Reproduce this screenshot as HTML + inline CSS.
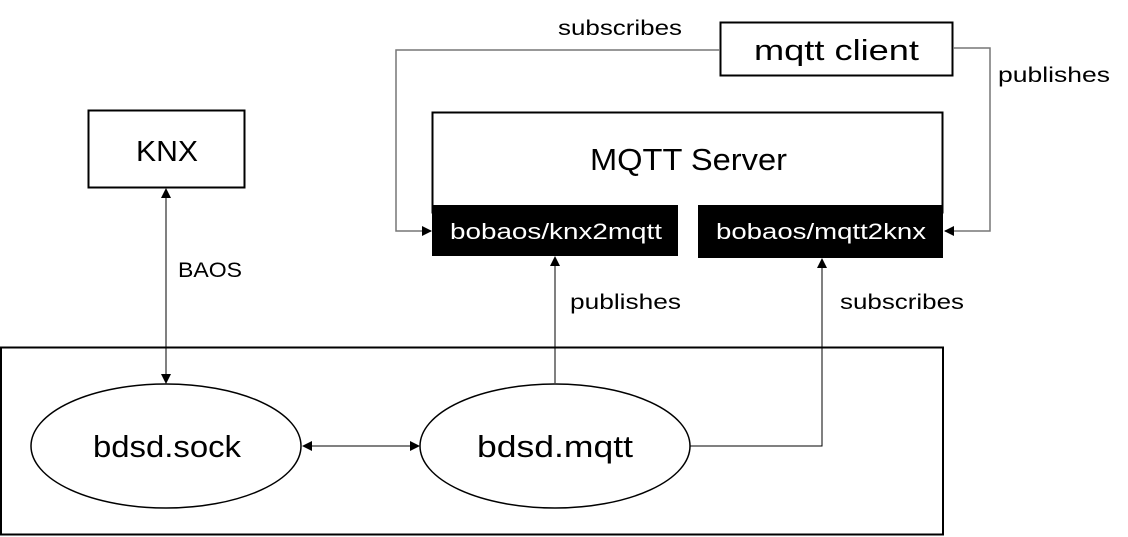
<!DOCTYPE html>
<html><head><meta charset="utf-8"><style>
html,body{margin:0;padding:0;background:#fff;}
svg{display:block;}
text{font-family:"Liberation Sans",sans-serif;fill:#000;}
</style></head><body>
<svg width="1128" height="537" viewBox="0 0 1128 537" xmlns="http://www.w3.org/2000/svg">
<defs>
<marker id="a" markerWidth="10" markerHeight="10" refX="9" refY="5" orient="auto" markerUnits="userSpaceOnUse">
<path d="M0,0 L10,5 L0,10 z" fill="#000"/></marker>
<marker id="s" markerWidth="10" markerHeight="10" refX="1" refY="5" orient="auto" markerUnits="userSpaceOnUse">
<path d="M10,0 L0,5 L10,10 z" fill="#000"/></marker>
</defs>
<!-- KNX -->
<rect x="88.5" y="110.5" width="156" height="77" fill="#fff" stroke="#000" stroke-width="2"/>
<text x="136" y="161" font-size="29" textLength="62" lengthAdjust="spacingAndGlyphs">KNX</text>
<!-- mqtt client -->
<rect x="720.5" y="22.5" width="232" height="53" fill="#fff" stroke="#000" stroke-width="2"/>
<text x="754" y="60" font-size="29" textLength="165" lengthAdjust="spacingAndGlyphs">mqtt client</text>
<!-- MQTT server -->
<rect x="432.5" y="112.5" width="510" height="100" fill="#fff" stroke="#000" stroke-width="2"/>
<text x="590" y="170" font-size="31" textLength="197" lengthAdjust="spacingAndGlyphs">MQTT Server</text>
<rect x="678" y="206" width="20" height="60" fill="#fff"/>
<rect x="432" y="205" width="246" height="51" fill="#000"/>
<text x="450" y="239" font-size="22" textLength="212" lengthAdjust="spacingAndGlyphs" style="fill:#fff">bobaos/knx2mqtt</text>
<rect x="698" y="205" width="245" height="53" fill="#000"/>
<text x="716" y="239" font-size="22" textLength="210" lengthAdjust="spacingAndGlyphs" style="fill:#fff">bobaos/mqtt2knx</text>
<!-- big box -->
<rect x="1" y="347.5" width="942" height="187" fill="none" stroke="#000" stroke-width="2"/>
<ellipse cx="166" cy="446" rx="135" ry="62" fill="#fff" stroke="#000" stroke-width="1.5"/>
<text x="93" y="457" font-size="31" textLength="148" lengthAdjust="spacingAndGlyphs">bdsd.sock</text>
<ellipse cx="555" cy="446" rx="135" ry="62" fill="#fff" stroke="#000" stroke-width="1.5"/>
<text x="477" y="457" font-size="31" textLength="156" lengthAdjust="spacingAndGlyphs">bdsd.mqtt</text>
<!-- connectors -->
<line x1="166" y1="189" x2="166" y2="383" stroke="#000" stroke-width="1" marker-start="url(#s)" marker-end="url(#a)"/>
<text x="178" y="277" font-size="21" textLength="64" lengthAdjust="spacingAndGlyphs">BAOS</text>
<line x1="303" y1="446" x2="419" y2="446" stroke="#000" stroke-width="1" marker-start="url(#s)" marker-end="url(#a)"/>
<line x1="555" y1="383" x2="555" y2="257" stroke="#000" stroke-width="1" marker-end="url(#a)"/>
<text x="570" y="309" font-size="21" textLength="111" lengthAdjust="spacingAndGlyphs">publishes</text>
<polyline points="690,446 822,446 822,259" fill="none" stroke="#000" stroke-width="1" marker-end="url(#a)"/>
<text x="840" y="309" font-size="21" textLength="124" lengthAdjust="spacingAndGlyphs">subscribes</text>
<polyline points="720,50 396,50 396,231 431,231" fill="none" stroke="#777" stroke-width="1.5" marker-end="url(#a)"/>
<text x="558" y="35" font-size="21" textLength="124" lengthAdjust="spacingAndGlyphs">subscribes</text>
<polyline points="953,48 990,48 990,231 945,231" fill="none" stroke="#777" stroke-width="1.5" marker-end="url(#a)"/>
<text x="998" y="82" font-size="21" textLength="112" lengthAdjust="spacingAndGlyphs">publishes</text>
</svg>
</body></html>
